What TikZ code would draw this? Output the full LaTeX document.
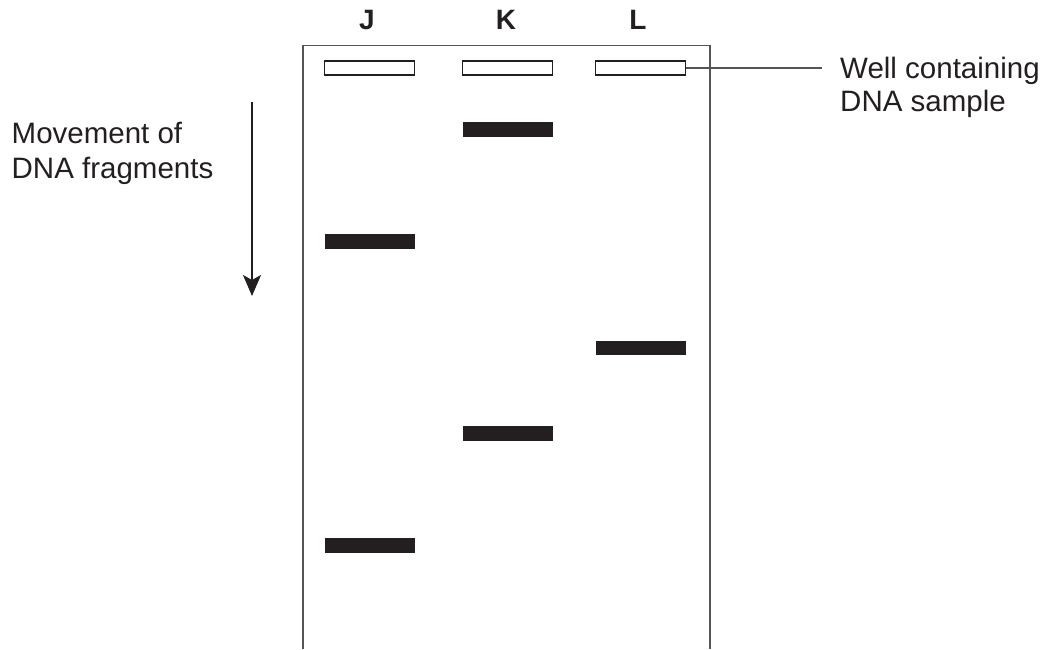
\documentclass[tikz,border=0pt]{standalone}
\usepackage{fontspec}
\setmainfont{Liberation Sans}
\usetikzlibrary{arrows.meta}
\definecolor{ink}{HTML}{231F20}
\definecolor{edge}{HTML}{555555}
\begin{document}
\begin{tikzpicture}[x=1pt,y=-1pt,
  well/.style={draw=ink,line width=1.1pt,fill=white,minimum width=90pt,minimum height=14pt,inner sep=0pt},
  band/.style={fill=ink,draw=none,minimum width=90pt,minimum height=14.5pt,inner sep=0pt},
  lane/.style={font=\fontsize{28}{32}\selectfont\bfseries,text=ink,inner sep=0pt,anchor=base},
  lbl/.style={font=\fontsize{29.5}{34}\selectfont,text=ink,inner sep=0pt,align=left,anchor=base west}]
\useasboundingbox (0,0) rectangle (1043,649);
% gel (open at bottom)
\draw[edge,line width=1.6pt] (303,649) -- (303,45.5) -- (710,45.5) -- (710,649);
% lane labels
\node[lane] (lJ) at (367,29) {J};
\node[lane] (lK) at (506,29) {K};
\node[lane] (lL) at (638,29) {L};
% wells
\node[well] (wJ) at (369.7,68) {};
\node[well] (wK) at (507.5,68) {};
\node[well] (wL) at (640.5,68) {};
% bands
\node[band] (bK1) at (507.5,129.5) {};
\node[band] (bJ1) at (369.7,241.5) {};
\node[band] (bL1) at (640.5,348) {};
\node[band] (bK2) at (507.5,433.5) {};
\node[band] (bJ2) at (369.7,545.5) {};
% direction arrow
\coordinate (aS) at (252,102);
\coordinate (aE) at (252,296);
\draw[ink,line width=1.6pt,-{Stealth[length=21pt,width=18pt,inset=5pt]}] (aS) -- (aE);
\node[lbl] (mv) at (11.5,143.5) {Movement of};
\node[lbl] (mv2) at (11.5,178.5) {DNA fragments};
% well label
\node[lbl] (wl) at (840,78) {Well containing};
\node[lbl] (wl2) at (840,111) {DNA sample};
\coordinate (wlEnd) at (822,68);
\draw[edge,line width=1.1pt] (wL.east) -- (wlEnd);
\end{tikzpicture}
\end{document}
